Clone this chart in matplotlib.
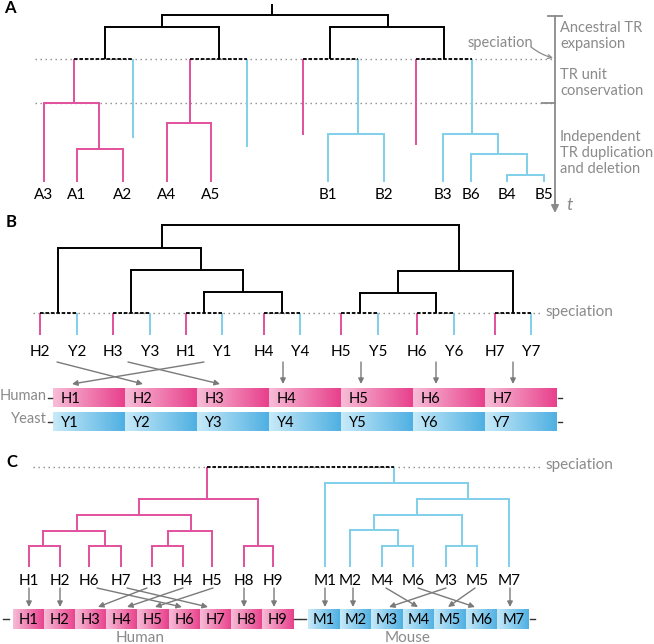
import numpy as np
import matplotlib.pyplot as plt
from matplotlib.colors import LinearSegmentedColormap

plt.rcParams['font.family'] = ['Lato', 'DejaVu Sans']

PINK = '#e2509b'
CYAN = '#7fcfea'
GREY = '#8a8a8a'
COL = {'k': 'black', 'p': PINK, 'c': CYAN}
pink_map = LinearSegmentedColormap.from_list('pk', ['#f7bdd7', '#e8408c'])
blue_map = LinearSegmentedColormap.from_list('bl', ['#c8eaf9', '#4fb0e2'])
FS = 11


# tree nodes: (x, y, colour, [children]); leaves: (x, y_end, colour, label)
def leaf(x, y, c, lab=None):
    return (x, y, c, lab)


def node(x, y, c, *kids):
    return (x, y, c, list(kids))


tree_a = node(272, 15, 'k',
    node(162, 27, 'k',
        node(105, 59, 'k',
            node(74, 103, 'p', leaf(44, 182, 'p', 'A3'),
                 node(99, 149, 'p', leaf(77, 182, 'p', 'A1'), leaf(123, 182, 'p', 'A2'))),
            leaf(133, 138, 'c')),
        node(219, 59, 'k',
            node(190, 123, 'p', leaf(167, 182, 'p', 'A4'), leaf(211, 182, 'p', 'A5')),
            leaf(247, 147, 'c'))),
    node(388, 27, 'k',
        node(330, 59, 'k', leaf(303, 135, 'p'),
            node(358, 134, 'c', leaf(328, 182, 'c', 'B1'), leaf(384, 182, 'c', 'B2'))),
        node(444, 59, 'k', leaf(416, 145, 'p'),
            node(472, 134, 'c', leaf(443, 182, 'c', 'B3'),
                node(498, 154, 'c', leaf(471, 182, 'c', 'B6'),
                    node(527, 175, 'c', leaf(507, 182, 'c', 'B4'), leaf(544, 182, 'c', 'B5')))))))

tree_b = node(310, 225, 'k',
    node(162, 248, 'k',
        node(58, 313, 'k', leaf(40, 335, 'p', 'H2'), leaf(77, 335, 'c', 'Y2')),
        node(201, 270, 'k',
            node(131, 313, 'k', leaf(113, 335, 'p', 'H3'), leaf(150, 335, 'c', 'Y3')),
            node(243, 292, 'k',
                node(204, 313, 'k', leaf(186, 335, 'p', 'H1'), leaf(222, 335, 'c', 'Y1')),
                node(282, 313, 'k', leaf(264, 335, 'p', 'H4'), leaf(300, 335, 'c', 'Y4'))))),
    node(459, 271, 'k',
        node(398, 293, 'k',
            node(360, 313, 'k', leaf(341, 335, 'p', 'H5'), leaf(378, 335, 'c', 'Y5')),
            node(436, 313, 'k', leaf(417, 335, 'p', 'H6'), leaf(454, 335, 'c', 'Y6'))),
        node(513, 313, 'k', leaf(495, 335, 'p', 'H7'), leaf(531, 335, 'c', 'Y7'))))

tree_c = node(300, 467, 'k',
    node(207, 499, 'p',
        node(139, 515, 'p',
            node(77, 531, 'p',
                node(43, 546, 'p', leaf(29, 567, 'p', 'H1'), leaf(60, 567, 'p', 'H2')),
                node(105, 546, 'p', leaf(89, 567, 'p', 'H6'), leaf(121, 567, 'p', 'H7'))),
            node(191, 531, 'p',
                node(168, 546, 'p', leaf(152, 567, 'p', 'H3'), leaf(183, 567, 'p', 'H4')),
                leaf(212, 567, 'p', 'H5'))),
        node(258, 546, 'p', leaf(244, 567, 'p', 'H8'), leaf(273, 567, 'p', 'H9'))),
    node(394, 483, 'c',
        leaf(325, 567, 'c', 'M1'),
        node(468, 499, 'c',
            node(417, 515, 'c',
                node(374, 530, 'c',
                    leaf(350, 567, 'c', 'M2'),
                    node(398, 546, 'c', leaf(382, 567, 'c', 'M4'), leaf(413, 567, 'c', 'M6'))),
                node(462, 546, 'c', leaf(446, 567, 'c', 'M3'), leaf(477, 567, 'c', 'M5'))),
            leaf(509, 567, 'c', 'M7'))))

# bars
b_human = ['H1', 'H2', 'H3', 'H4', 'H5', 'H6', 'H7']
b_yeast = ['Y1', 'Y2', 'Y3', 'Y4', 'Y5', 'Y6', 'Y7']
c_human = ['H1', 'H2', 'H3', 'H4', 'H5', 'H6', 'H7', 'H8', 'H9']
c_mouse = ['M1', 'M2', 'M3', 'M4', 'M5', 'M6', 'M7']

# arrows (from x, to x)
b_arrows = [(57, 143), (128, 220), (204, 72), (283, 283), (361, 361), (436, 436), (513, 513)]
c_arrows = [(29, 29), (60, 60), (97, 182), (127, 208), (147, 98), (183, 127), (213, 155),
            (244, 244), (274, 274), (325, 325), (353, 353), (386, 418), (418, 475),
            (446, 389), (475, 448), (510, 510)]

fig = plt.figure(figsize=(6.54, 6.44), dpi=100)
ax = fig.add_axes([0, 0, 1, 1])
LW = 1.4


def draw(n, top, spec_y, lab_y):
    x, y, c, rest = n
    if top is not None:
        ax.plot([x, x], [top, y], color=COL[c], lw=LW, solid_capstyle='butt', zorder=3)
    if isinstance(rest, list):
        xs = [k[0] for k in rest]
        if y == spec_y:
            ax.plot([min(xs), max(xs)], [y, y], color='black', lw=1.3,
                    ls=(0, (2, 1)), zorder=4)
        else:
            ax.plot([min(xs) - 0.6, max(xs) + 0.6], [y, y], color=COL[c], lw=LW,
                    solid_capstyle='butt', zorder=3)
        for k in rest:
            draw(k, y, spec_y, lab_y)
    elif rest:
        ax.text(x, lab_y, rest, ha='center', va='center', fontsize=FS, color='black')


def dotted(x0, x1, y):
    ax.plot([x0, x1], [y, y], color=GREY, lw=1, ls=(0, (1, 2.6)), zorder=2)


def arrow(x0, y0, x1, y1):
    ax.annotate('', xy=(x1, y1), xytext=(x0, y0),
                arrowprops=dict(arrowstyle='-|>', color='#7a7a7a', lw=1,
                                mutation_scale=8, shrinkA=0, shrinkB=0))


def bar(names, x0, x1, y0, y1, cmap, center):
    w = (x1 - x0) / len(names)
    grad = np.linspace(0, 1, 256).reshape(1, -1)
    for i, nm in enumerate(names):
        a = x0 + i * w
        ax.imshow(grad, cmap=cmap, extent=(a, a + w, y1, y0), aspect='auto',
                  interpolation='bicubic', zorder=2)
        if center:
            ax.text(a + w / 2, (y0 + y1) / 2 + 1, nm, ha='center', va='center', fontsize=10.5)
        else:
            ax.text(a + 8, (y0 + y1) / 2 + 1, nm, ha='left', va='center', fontsize=10.5)


# ---- panel A
dotted(35, 553, 59)
dotted(35, 553, 103)
draw(tree_a, 4, 59, 195)
ax.plot([555, 555], [16, 203], color=GREY, lw=1.3)
ax.annotate('', xy=(555, 213), xytext=(555, 200),
            arrowprops=dict(arrowstyle='-|>', color=GREY, lw=1.3, mutation_scale=11,
                            shrinkA=0, shrinkB=0))
ax.plot([548, 562], [16, 16], color=GREY, lw=1.3)
ax.plot([542, 555], [103, 103], color=GREY, lw=1.3)
ax.text(566, 205, 't', fontsize=13, style='italic', color=GREY, ha='left', va='center')
ax.text(560, 36, 'Ancestral TR\nexpansion', fontsize=10.5, color=GREY, va='center', linespacing=1.25)
ax.text(560, 83, 'TR unit\nconservation', fontsize=10.5, color=GREY, va='center', linespacing=1.25)
ax.text(560, 153, 'Independent\nTR duplication\nand deletion', fontsize=10.5, color=GREY,
        va='center', linespacing=1.17)
ax.text(533, 43, 'speciation', fontsize=10.5, color=GREY, ha='right', va='center')
ax.annotate('', xy=(553, 58), xytext=(531, 47),
            arrowprops=dict(arrowstyle='->', color=GREY, lw=0.9, mutation_scale=7,
                            shrinkA=0, shrinkB=0, connectionstyle='arc3,rad=0.1'))
ax.text(4, 8, 'A', fontsize=12, fontweight='bold', va='center')

# ---- panel B
dotted(33, 540, 313)
draw(tree_b, None, 313, 352)
ax.text(545, 312, 'speciation', fontsize=11, color=GREY, ha='left', va='center')
for a, b in b_arrows:
    arrow(a, 362, b, 384)
bar(b_human, 53, 557, 388, 407, pink_map, False)
bar(b_yeast, 53, 557, 412, 431, blue_map, False)
ax.text(47, 396, 'Human', fontsize=10.5, color=GREY, ha='right', va='center')
ax.text(47, 419, 'Yeast', fontsize=10.5, color=GREY, ha='right', va='center')
for yy in (397.5, 421.5):
    ax.plot([48, 52], [yy, yy], color='#333333', lw=1)
    ax.plot([558, 562], [yy, yy], color='#333333', lw=1)
ax.text(6, 222, 'B', fontsize=12, fontweight='bold', va='center')

# ---- panel C
dotted(33, 540, 467)
draw(tree_c, None, 467, 581)
ax.text(545, 465, 'speciation', fontsize=11, color=GREY, ha='left', va='center')
for a, b in c_arrows:
    arrow(a, 588, b, 607)
bar(c_human, 13, 293, 609, 629, pink_map, True)
bar(c_mouse, 308, 529, 609, 629, blue_map, True)
for xa, xb in ((3, 9), (294, 300), (301, 306), (530, 535)):
    ax.plot([xa, xb], [619, 619], color='#333333', lw=1)
ax.text(140, 638, 'Human', fontsize=11, color=GREY, ha='center', va='center')
ax.text(408, 638, 'Mouse', fontsize=11, color=GREY, ha='center', va='center')
ax.text(6, 462, 'C', fontsize=12, fontweight='bold', va='center')

ax.set_xlim(0, 654)
ax.set_ylim(644, 0)
ax.axis('off')
fig.savefig('out.png', dpi=100)
